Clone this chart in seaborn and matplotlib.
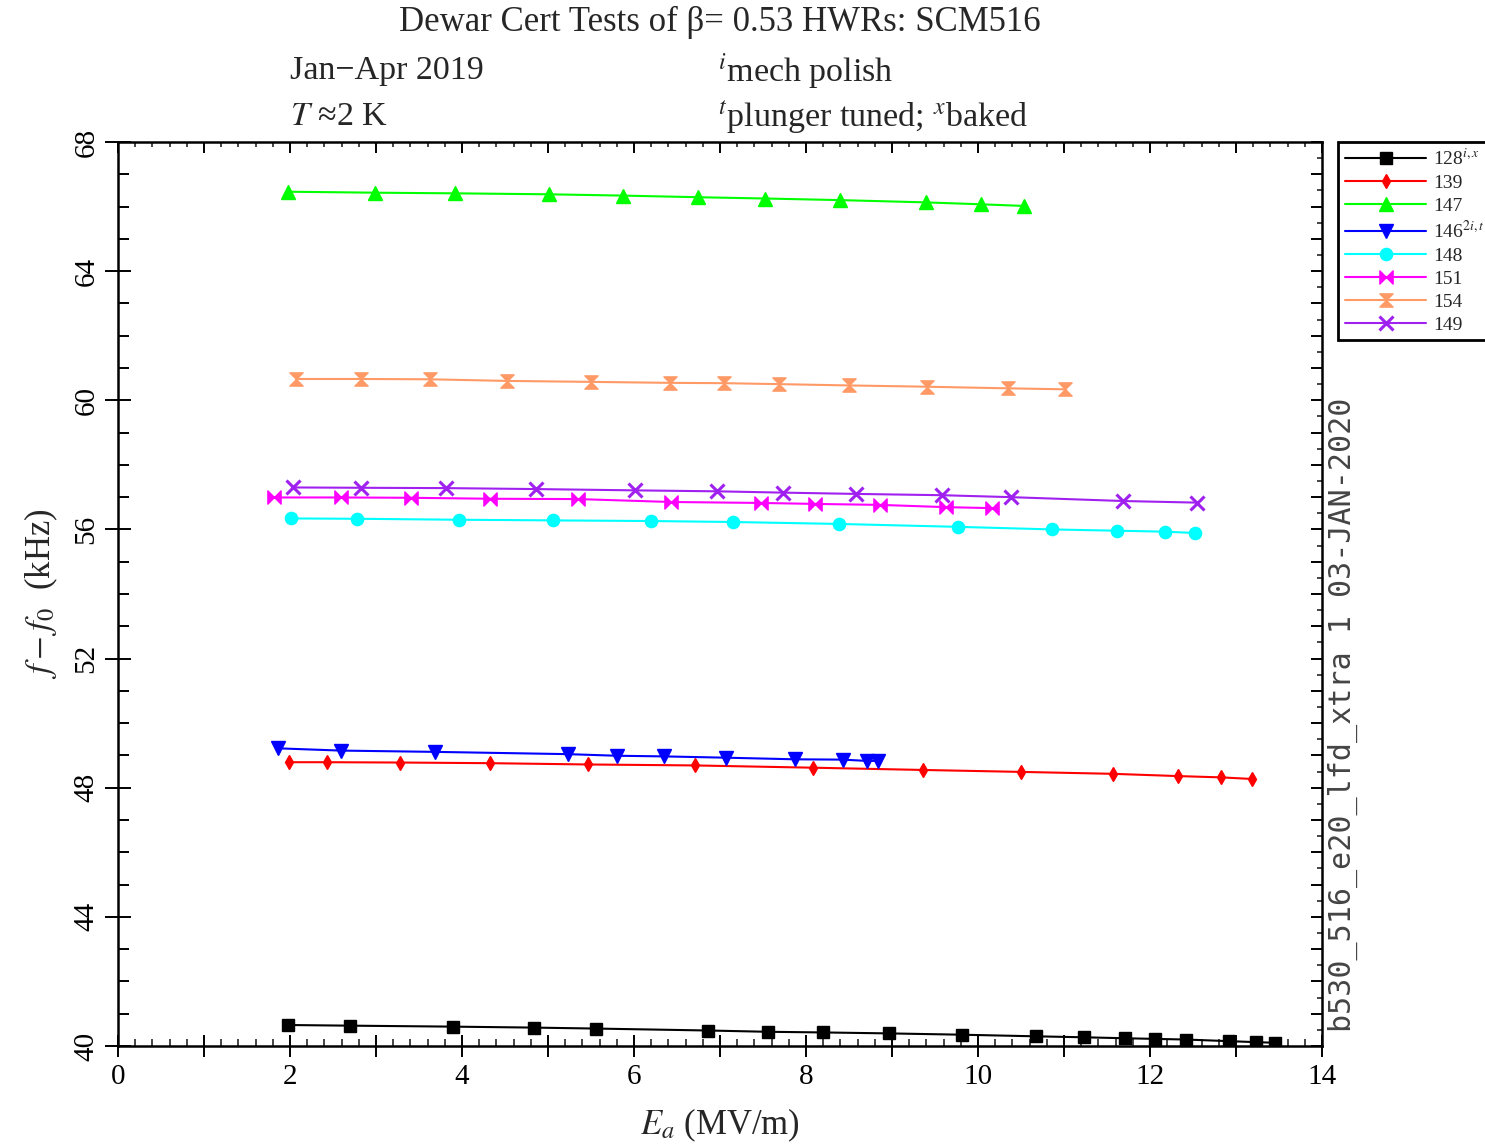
import matplotlib
matplotlib.use("Agg")
import matplotlib.pyplot as plt
import matplotlib.lines as mlines
from matplotlib.path import Path
from matplotlib.ticker import MultipleLocator, FuncFormatter
import seaborn as sns

# ---- measured frequency shifts f - f0 (kHz) vs accelerating gradient Ea (MV/m) ----
ea_128 = [1.98, 2.70, 3.89, 4.84, 5.56, 6.86, 7.56, 8.20, 8.97, 9.81, 10.67, 11.23,
          11.71, 12.06, 12.42, 12.92, 13.23, 13.45]
df_128 = [40.65, 40.63, 40.60, 40.57, 40.54, 40.48, 40.44, 40.42, 40.39, 40.35, 40.30,
          40.27, 40.24, 40.22, 40.20, 40.15, 40.12, 40.10]

ea_139 = [1.99, 2.43, 3.28, 4.32, 5.46, 6.71, 8.08, 9.36, 10.50, 11.57, 12.33, 12.83, 13.19]
df_139 = [48.79, 48.79, 48.78, 48.76, 48.72, 48.69, 48.62, 48.55, 48.49, 48.43, 48.36,
          48.32, 48.27]

ea_147 = [1.98, 2.99, 3.92, 5.01, 5.87, 6.74, 7.52, 8.40, 9.39, 10.04, 10.53]
df_147 = [66.46, 66.43, 66.41, 66.38, 66.34, 66.29, 66.25, 66.20, 66.13, 66.07, 66.02]

ea_146 = [1.86, 2.59, 3.69, 5.23, 5.80, 6.35, 7.07, 7.87, 8.43, 8.71, 8.84]
df_146 = [49.22, 49.15, 49.11, 49.04, 48.99, 48.97, 48.93, 48.88, 48.87, 48.83, 48.83]

ea_148 = [2.01, 2.78, 3.96, 5.06, 6.20, 7.15, 8.38, 9.77, 10.86, 11.62, 12.18, 12.52]
df_148 = [56.34, 56.33, 56.30, 56.28, 56.26, 56.23, 56.17, 56.08, 56.00, 55.96, 55.93, 55.89]

ea_151 = [1.81, 2.59, 3.41, 4.33, 5.35, 6.43, 7.48, 8.11, 8.86, 9.63, 10.16]
df_151 = [56.99, 56.99, 56.98, 56.95, 56.94, 56.85, 56.82, 56.79, 56.76, 56.69, 56.66]

ea_154 = [2.07, 2.82, 3.63, 4.52, 5.50, 6.42, 7.05, 7.69, 8.50, 9.41, 10.35, 11.01]
df_154 = [60.66, 60.66, 60.65, 60.60, 60.57, 60.54, 60.53, 60.50, 60.46, 60.42, 60.37, 60.34]

ea_149 = [2.04, 2.83, 3.81, 4.86, 6.01, 6.97, 7.73, 8.58, 9.58, 10.38, 11.69, 12.55]
df_149 = [57.30, 57.29, 57.28, 57.25, 57.21, 57.18, 57.14, 57.10, 57.06, 57.00, 56.88, 56.83]

labels = ["128$^{i,x}$", "139", "147", "146$^{2i,t}$", "148", "151", "154", "149"]

# ---- styling ----
sns.set_style("ticks")
plt.rcParams["font.family"] = ["Liberation Serif", "DejaVu Serif"]
plt.rcParams["mathtext.fontset"] = "stix"

M, L, C = Path.MOVETO, Path.LINETO, Path.CLOSEPOLY
bowtie = Path([(-1, -1), (0, 0), (-1, 1), (-1, -1), (1, -1), (0, 0), (1, 1), (1, -1)],
              [M, L, L, C, M, L, L, C])
hourglass = Path([(-1, 1), (0, 0), (1, 1), (-1, 1), (-1, -1), (0, 0), (1, -1), (-1, -1)],
                 [M, L, L, C, M, L, L, C])

series = [
    (ea_128, df_128, "black", "s", 8.6, 1.0),
    (ea_139, df_139, "#ff0000", "d", 7.6, 1.0),
    (ea_147, df_147, "#00ff00", "^", 9.5, 1.0),
    (ea_146, df_146, "#0000ff", "v", 9.5, 1.0),
    (ea_148, df_148, "#00ffff", "o", 8.8, 1.0),
    (ea_151, df_151, "#ff00ff", bowtie, 9.5, 1.0),
    (ea_154, df_154, "#ff9966", hourglass, 9.5, 1.0),
    (ea_149, df_149, "#a020f0", "x", 9.5, 2.2),
]

fig = plt.figure(figsize=(14.85, 11.44), dpi=100)
ax = fig.add_axes([118 / 1485, 1 - 1046 / 1144, (1322 - 118) / 1485, (1046 - 142) / 1144])

for (xs, ys, col, mk, ms, mew), lab in zip(series, labels):
    sns.lineplot(x=xs, y=ys, ax=ax, color=col, marker=mk, markersize=ms,
                 markeredgewidth=mew, markeredgecolor=col, linewidth=1.5,
                 label=lab, sort=False, estimator=None)

ax.set_xlim(0, 14)
ax.set_ylim(40, 68)

for sp in ax.spines.values():
    sp.set_linewidth(1.8)
    sp.set_color("black")

ax.xaxis.set_major_locator(MultipleLocator(1))
ax.xaxis.set_minor_locator(MultipleLocator(0.2))
ax.yaxis.set_major_locator(MultipleLocator(1))
ax.yaxis.set_minor_locator(MultipleLocator(0.5))
ax.xaxis.set_major_formatter(FuncFormatter(
    lambda v, p: f"{int(round(v))}" if int(round(v)) % 2 == 0 else ""))
ax.yaxis.set_major_formatter(FuncFormatter(
    lambda v, p: f"{int(round(v))}" if int(round(v)) % 4 == 0 else ""))

ax.tick_params(axis="x", which="major", direction="inout", length=15.8, width=1.4,
               labelsize=21, pad=5, top=True, bottom=True, colors="black")
ax.tick_params(axis="y", which="major", direction="inout", length=18.7, width=1.4,
               labelsize=21, pad=4, left=True, right=True, labelrotation=90, colors="black")
ax.tick_params(which="minor", direction="in", width=1.2, top=True, right=True,
               bottom=True, left=True)
for t in ax.get_yticklabels():
    t.set_va("center")


def style_tick(line, marker, size, width):
    line.set_marker(marker)
    line.set_markersize(size)
    line.set_markeredgewidth(width)


for tk in ax.xaxis.get_major_ticks():
    v = int(round(tk.get_loc()))
    if v % 2 == 0:
        style_tick(tk.tick1line, "|", 15.8, 1.4)
    else:
        style_tick(tk.tick1line, mlines.TICKUP, 8.4, 1.4)
    style_tick(tk.tick2line, mlines.TICKDOWN, 7.7, 1.4)
for tk in ax.xaxis.get_minor_ticks():
    style_tick(tk.tick1line, mlines.TICKUP, 4.8, 1.2)
    style_tick(tk.tick2line, mlines.TICKDOWN, 3.6, 1.2)
for tk in ax.yaxis.get_major_ticks():
    v = int(round(tk.get_loc()))
    if v % 4 == 0:
        style_tick(tk.tick1line, "_", 18.7, 1.4)
    else:
        style_tick(tk.tick1line, mlines.TICKRIGHT, 7.9, 1.4)
    style_tick(tk.tick2line, mlines.TICKLEFT, 7.7, 1.4)
for tk in ax.yaxis.get_minor_ticks():
    tk.tick1line.set_visible(False)
    style_tick(tk.tick2line, mlines.TICKLEFT, 3.8, 1.2)

ax.set_xlabel("$E_a$ (MV/m)", fontsize=25, labelpad=12)
ax.set_ylabel("$f - f_0$  (kHz)", fontsize=25, labelpad=10)

leg = ax.legend(loc="upper left", bbox_to_anchor=(1338 / 1485, 1 - 142 / 1144),
                bbox_transform=fig.transFigure, borderaxespad=0, fontsize=14,
                handlelength=4.2, handletextpad=0.35, labelspacing=0.27,
                borderpad=0.35, fancybox=False, framealpha=1, edgecolor="black")
leg.get_frame().set_linewidth(2)

# header text
fig.text(720 / 1485, 1 - 22 / 1144, "Dewar Cert Tests of β= 0.53 HWRs: SCM516",
         ha="center", va="center", fontsize=25)
fig.text(290 / 1485, 1 - 71 / 1144, "Jan\u2212Apr 2019", ha="left", va="center", fontsize=24.5)
fig.text(290 / 1485, 1 - 117 / 1144, "$T$ \u22482 K", ha="left", va="center", fontsize=24.5)
fig.text(718 / 1485, 1 - 71 / 1144, "$^{i}$mech polish", ha="left", va="center", fontsize=24.5)
fig.text(718 / 1485, 1 - 117 / 1144, "$^{t}$plunger tuned; $^{x}$baked",
         ha="left", va="center", fontsize=24.5)

# run identifier along the right edge
fig.text(1343 / 1485, 1 - 715 / 1144, "b530_516_e20_lfd_xtra 1 03-JAN-2020",
         rotation=90, ha="center", va="center", fontsize=21.6,
         family="DejaVu Sans Mono", color="#444444")

fig.savefig("out.png", dpi=100, facecolor="white")
